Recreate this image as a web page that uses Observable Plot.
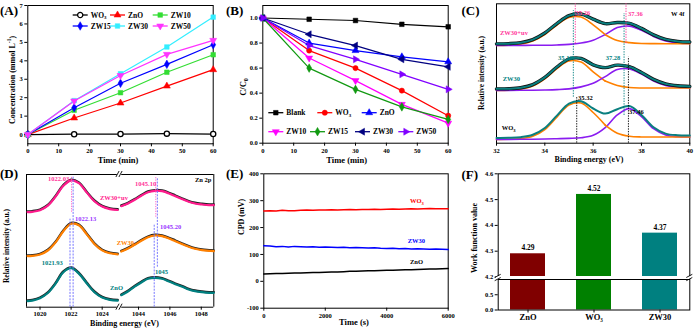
<!DOCTYPE html>
<html>
<head>
<meta charset="utf-8">
<script src="https://cdn.jsdelivr.net/npm/d3@7"></script>
<script src="https://cdn.jsdelivr.net/npm/@observablehq/plot@0.6"></script>
<style>
  html, body { margin: 0; padding: 0; background: #fff; }
  #fig { position: relative; width: 700px; height: 331px; overflow: hidden; background: #fff;
         font-family: "Liberation Serif", "Times New Roman", serif; font-weight: bold; }
  .p { position: absolute; }
  .t { position: absolute; white-space: nowrap; line-height: 1; }
  .t sub, .t sup { font-size: 70%; line-height: 0; }
</style>
</head>
<body>
<div id="fig"></div>
<script>
// ================= DATA =================
// (A) concentration vs time
const timeA = [0, 15, 30, 45, 60];
const seriesA = ["WO3", "ZnO", "ZW10", "ZW15", "ZW30", "ZW50"];
const concWO3  = [0, 0.02, 0.03, 0.05, 0.03];
const concZnO  = [0, 0.90, 1.71, 2.63, 3.52];
const concZW10 = [0, 1.32, 2.27, 3.38, 4.33];
const concZW15 = [0, 1.46, 2.78, 3.81, 4.87];
const concZW30 = [0, 1.84, 3.30, 4.75, 6.37];
const concZW50 = [0, 1.82, 3.20, 4.35, 5.11];
const ticksA = [0, 1, 2, 3, 4, 5, 6, 7];
const ticksTime = [0, 10, 20, 30, 40, 50, 60];

// (B) C/C0 vs time
const timeB = [0, 15, 30, 45, 60];
const seriesB = ["Blank", "WO3", "ZnO", "ZW10", "ZW15", "ZW30", "ZW50"];
const ratioBlank = [1, 0.99, 0.98, 0.95, 0.93];
const ratioWO3   = [1, 0.74, 0.60, 0.42, 0.22];
const ratioZnO   = [1, 0.80, 0.74, 0.69, 0.65];
const ratioZW10  = [1, 0.68, 0.50, 0.31, 0.16];
const ratioZW15  = [1, 0.60, 0.43, 0.29, 0.19];
const ratioZW30  = [1, 0.87, 0.78, 0.67, 0.61];
const ratioZW50  = [1, 0.78, 0.67, 0.55, 0.43];
const ticksB = [0, 0.2, 0.4, 0.6, 0.8, 1.0];

// (C) W 4f XPS (arbitrary intensity units, stacked spectra)
const spectraC = ["WO3", "ZW30", "ZW30+uv"];
const energyC = [32, 32.5, 33, 33.5, 34, 34.5, 35, 35.5, 36, 36.5, 37, 37.5, 38, 38.5, 39, 39.5, 40];
const bgC_WO3  = [5.3, 5.3, 5.4, 5.5, 5.7, 6.0, 6.3, 6.6, 6.9, 7.1, 7.3, 7.5, 7.6, 7.7, 7.7, 7.7, 7.7];
const w47C_WO3 = [0, 0.08, 0.6, 2.9, 9.5, 21.6, 33.3, 35.1, 25.3, 12.5, 4.2, 1.0, 0.15, 0, 0, 0, 0];
const w45C_WO3 = [0, 0, 0, 0, 0, 0, 0.03, 0.35, 2.5, 10.0, 22.5, 28.6, 20.5, 8.3, 1.9, 0.24, 0];
const bgC_ZW30  = [54.3, 54.3, 54.4, 54.5, 54.7, 55.0, 55.3, 55.6, 55.9, 56.1, 56.3, 56.5, 56.6, 56.7, 56.7, 56.7, 56.7];
const w47C_ZW30 = [0.03, 0.2, 1.1, 4.1, 11.1, 21.1, 28.4, 27.0, 17.0, 7.5, 2.9, 0.7, 0.1, 0, 0, 0, 0];
const w45C_ZW30 = [0, 0, 0, 0, 0.03, 0.1, 0.5, 2.2, 5.5, 12.0, 18.9, 19.3, 14.0, 7.1, 2.6, 0.7, 0.1];
const bgC_UV  = [99.3, 99.3, 99.35, 99.4, 99.5, 99.7, 99.9, 100.1, 100.3, 100.5, 100.6, 100.8, 100.9, 101, 101, 101, 101];
const w47C_UV = [0.04, 0.26, 1.2, 4.2, 10.7, 19.9, 27.3, 27.5, 19.5, 9.5, 3.6, 1.3, 0.3, 0.05, 0, 0, 0];
const w45C_UV = [0, 0, 0, 0, 0, 0.06, 0.4, 1.6, 4.2, 9.6, 16.5, 17.8, 13.6, 7.3, 2.8, 0.8, 0.15];
const guideC = [
  {s: "ZW30+uv", e: 35.26, lo: 99.5, hi: 139.4}, {s: "ZW30+uv", e: 37.36, lo: 99.5, hi: 139.4},
  {s: "ZW30", e: 35.18, lo: 46, hi: 132.7}, {s: "ZW30", e: 37.28, lo: 27.7, hi: 129.7},
  {s: "WO3", e: 35.32, lo: 0, hi: 46}, {s: "WO3", e: 37.46, lo: 0, hi: 86}
];
const ticksC = [32, 34, 36, 38, 40];

// (D) Zn 2p XPS (broken energy axis: 2p3/2 and 2p1/2 windows)
const samplesD = ["ZnO", "ZW30", "ZW30+uv"];
const energyD32 = [1019.2, 1019.5, 1020, 1020.5, 1021, 1021.5, 1022, 1022.5, 1023, 1023.5, 1024, 1024.5, 1025];
const zn32_ZnO  = [6.1, 6.6, 9.0, 14.2, 23.5, 35.0, 39.0, 33.6, 24.0, 15.0, 9.6, 7.3, 6.6];
const zn32_ZW30 = [51.1, 51.3, 52.7, 56.7, 64.8, 76.0, 83.5, 81.9, 73.1, 63.2, 56.8, 53.9, 52.9];
const zn32_UV   = [95.1, 95.4, 97.0, 101.5, 110.6, 121.4, 126.8, 124.0, 114.8, 106.0, 100.6, 98.1, 97.2];
const energyD12 = [1042.9, 1043.3, 1043.75, 1044.2, 1044.6, 1045.05, 1045.5, 1045.9, 1046.35, 1046.8, 1047.2, 1047.6, 1048.05, 1048.5, 1048.8];
const zn12_ZnO  = [12, 15.5, 20.5, 25, 28.4, 29.4, 28.4, 26, 23, 20.4, 17.7, 16, 15, 14.4, 14.4];
const zn12_ZW30 = [55.7, 58.4, 62.4, 66.7, 70, 71.7, 71, 69, 66, 63, 60.4, 58.4, 57, 56.4, 56];
const zn12_UV   = [101, 103.4, 107.4, 111.7, 115, 116.4, 116, 114, 111, 108, 105.4, 103.7, 102.7, 102, 102];
const guideD = [
  {s: "ZnO", e: 1021.93, lo: 0, hi: 88}, {s: "ZW30", e: 1022.13, lo: 0, hi: 130}, {s: "ZW30+uv", e: 1022.03, lo: 95, hi: 131},
  {s: "ZnO", e: 1045.0, lo: 0, hi: 82}, {s: "ZW30", e: 1045.2, lo: 40, hi: 129}, {s: "ZW30+uv", e: 1045.1, lo: 90, hi: 130}
];
const domainD32 = [1019.13, 1025.05];
const domainD12 = [1042.85, 1048.8];
const ticksD32 = [1020, 1022, 1024];
const ticksD12 = [1044, 1046, 1048];
const domainDy = [0, 132.7];

// (E) CPD vs time
const timeE = [0,200,400,600,800,1000,1200,1400,1600,1800,2000,2200,2400,2600,2800,3000,3200,3400,3600,3800,4000,4200,4400,4600,4800,5000,5200,5400,5600,5800,6000];
const seriesE = ["WO3", "ZW30", "ZnO"];
const cpdWO3  = [262,263,262,264,263,263,264,265,264,265,265,266,265,266,267,266,267,267,268,267,268,269,268,269,270,269,270,271,270,270,270];
const cpdZW30 = [132,131,129,130,128,130,129,128,129,127,128,127,126,127,125,126,125,124,125,123,122,123,121,122,120,121,120,119,120,119,118];
const cpdZnO  = [27,28,29,29,30,31,31,32,33,33,34,35,35,36,37,37,38,39,39,40,41,41,42,43,43,44,45,46,46,47,48];
const ticksE_y = [-100, 0, 100, 200, 300, 400];
const ticksE_x = [0, 2000, 4000, 6000];

// (F) work function (broken value axis)
const materialsF = ["ZnO", "WO₃", "ZW30"];
const workFunction = [4.29, 4.52, 4.37];
const domainFlow = [0, 1.0];
const domainFhigh = [4.2, 4.6];
const ticksFlow = [0, 0.5];
const ticksFhigh = [4.2, 4.3, 4.4, 4.5, 4.6];

// ================= STYLES =================
const serif = '"Liberation Serif", "Times New Roman", serif';
const colorsA = ["#000000", "#ff0000", "#33dd33", "#0000ff", "#33eeff", "#ff33ff"];
const symA = ["circle", "triangle", "square", "diamond", "square", "triangle"];
const rotA = [0, 0, 0, 0, 0, 180];
const colorsB = ["#000000", "#ff0000", "#0000ff", "#ff00ff", "#119911", "#000080", "#8000ff"];
const symB = ["square", "circle", "triangle", "triangle", "diamond", "triangle", "triangle"];
const rotB = [0, 0, 0, 180, 0, -90, 90];
const colorsC = ["#000000", "#008080", "#ff3399"];
const colorsD = ["#008080", "#ff8000", "#ff1a8c"];
const colorsE = ["#ff0000", "#0000ff", "#000000"];
const colorsF = ["#800000", "#008000", "#008080"];

function st(size) {
  return {fontFamily: serif, fontSize: size + "px", fontWeight: "bold", color: "#000", background: "transparent", overflow: "visible"};
}
const fig = d3.select("#fig");
function mount(svg, left, top) {
  fig.append("div").attr("class", "p").style("left", left + "px").style("top", top + "px").node().appendChild(svg);
}
function dots(rows, names, colors, syms, rots, xk, yk, hollowFirst) {
  return names.map((n, i) => Plot.dot(rows.filter(d => d.s === n), {
    x: xk, y: yk, symbol: syms[i], rotate: rots[i], r: 2.6,
    fill: hollowFirst && i === 0 ? "#ffffff" : colors[i], stroke: colors[i],
    strokeWidth: hollowFirst && i === 0 ? 1.3 : 0.5
  }));
}

// ================= (A) =================
const concA = [concWO3, concZnO, concZW10, concZW15, concZW30, concZW50];
const rowsA = seriesA.flatMap((s, i) => timeA.map((t, j) => ({s, t, v: concA[i][j]})));
mount(Plot.plot({
  width: 230, height: 165, marginLeft: 27.3, marginRight: 17.3, marginTop: 5, marginBottom: 21.7,
  style: st(6.5),
  x: {domain: [0, 60], ticks: ticksTime, tickSize: 3, tickPadding: 2, label: null},
  y: {domain: [-0.5, 7], ticks: ticksA, tickSize: 3, tickPadding: 2, label: null},
  color: {domain: seriesA, range: colorsA},
  marks: [
    Plot.frame({stroke: "#000", strokeWidth: 1}),
    Plot.line(rowsA, {x: "t", y: "v", z: "s", stroke: "s", strokeWidth: 1.2}),
    ...dots(rowsA, seriesA, colorsA, symA, rotA, "t", "v", true)
  ]
}), 0, 0);

// ================= (B) =================
const ratioB = [ratioBlank, ratioWO3, ratioZnO, ratioZW10, ratioZW15, ratioZW30, ratioZW50];
const rowsB = seriesB.flatMap((s, i) => timeB.map((t, j) => ({s, t, v: ratioB[i][j]})));
mount(Plot.plot({
  width: 230, height: 165, marginLeft: 32.3, marginRight: 12.3, marginTop: 5, marginBottom: 22.3,
  style: st(6.5),
  x: {domain: [0, 60], ticks: ticksTime, tickSize: 3, tickPadding: 2, label: null},
  y: {domain: [0, 1.1], ticks: ticksB, tickFormat: d3.format(".1f"), tickSize: 3, tickPadding: 2, label: null},
  color: {domain: seriesB, range: colorsB},
  marks: [
    Plot.frame({stroke: "#000", strokeWidth: 1}),
    Plot.line(rowsB, {x: "t", y: "v", z: "s", stroke: "s", strokeWidth: 1.2}),
    ...dots(rowsB, seriesB, colorsB, symB, rotB, "t", "v", false)
  ]
}), 230, 0);

// ================= (C) =================
const bgC = [bgC_WO3, bgC_ZW30, bgC_UV];
const w47C = [w47C_WO3, w47C_ZW30, w47C_UV];
const w45C = [w45C_WO3, w45C_ZW30, w45C_UV];
const rowsC = spectraC.flatMap((s, i) => energyC.map((e, j) => ({
  s, e,
  o: bgC[i][j] + w47C[i][j],
  p: bgC[i][j] + w45C[i][j],
  env: bgC[i][j] + w47C[i][j] + w45C[i][j]
})));
const splitC = 36.5;
mount(Plot.plot({
  width: 240, height: 165, marginLeft: 36, marginRight: 10.7, marginTop: 3.3, marginBottom: 22.3,
  style: st(6.5),
  x: {domain: [32, 40], ticks: ticksC, tickSize: 3, tickPadding: 2, label: null},
  y: {domain: [0, 139.4], axis: null},
  color: {domain: spectraC, range: colorsC},
  marks: [
    Plot.frame({stroke: "#000", strokeWidth: 1}),
    Plot.line(rowsC.filter(d => d.e <= splitC), {x: "e", y: "o", z: "s", stroke: "#ff8000", strokeWidth: 1.6, curve: "catmull-rom", dy: 1.5}),
    Plot.line(rowsC, {x: "e", y: "p", z: "s", stroke: "#8a1cf0", strokeWidth: 1.6, curve: "catmull-rom", dy: 1.5}),
    Plot.line(rowsC.filter(d => d.e >= splitC), {x: "e", y: "o", z: "s", stroke: "#ff8000", strokeWidth: 1.6, curve: "catmull-rom", dy: 1.5}),
    Plot.line(rowsC.filter(d => d.s !== "WO3"), {x: "e", y: "env", z: "s", stroke: "#111", strokeWidth: 3.4, curve: "catmull-rom"}),
    Plot.line(rowsC, {x: "e", y: "env", z: "s", stroke: "#0a7f7f", strokeWidth: 2, curve: "catmull-rom"}),
    Plot.ruleX(guideC, {x: "e", y1: "lo", y2: "hi", stroke: "s", strokeWidth: 0.9, strokeDasharray: "1.4,1.2"})
  ]
}), 460, 0);

// ================= (D) two windows of one broken axis =================
const zn32 = [zn32_ZnO, zn32_ZW30, zn32_UV];
const zn12 = [zn12_ZnO, zn12_ZW30, zn12_UV];
const rowsD32 = samplesD.flatMap((s, i) => energyD32.map((e, j) => ({s, e, v: zn32[i][j]})));
const rowsD12 = samplesD.flatMap((s, i) => energyD12.map((e, j) => ({s, e, v: zn12[i][j]})));
function panelD(rows, domain, ticks, width, mL, mR, outerEdge) {
  return Plot.plot({
    width, height: 166, marginLeft: mL, marginRight: mR, marginTop: 9, marginBottom: 24.3,
    style: st(6.5),
    x: {domain, ticks, tickFormat: d => String(d), tickSize: 3, tickPadding: 1, label: null},
    y: {domain: domainDy, axis: null},
    color: {domain: samplesD, range: colorsD},
    marks: [
      Plot.ruleY(domainDy, {stroke: "#000", strokeWidth: 1}),
      Plot.ruleX([outerEdge], {stroke: "#000", strokeWidth: 1}),
      Plot.line(rows, {x: "e", y: "v", z: "s", stroke: "#222", strokeWidth: 2.4, curve: "catmull-rom", dy: -0.7}),
      Plot.line(rows, {x: "e", y: "v", z: "s", stroke: "s", strokeWidth: 2.2, curve: "catmull-rom"}),
      Plot.ruleX(guideD.filter(d => d.s !== "ZW30+uv" && d.e >= domain[0] && d.e <= domain[1]), {x: "e", y1: "lo", y2: "hi", stroke: "#7676ff", strokeWidth: 1, strokeDasharray: "2,1.2"}),
      Plot.ruleX(guideD.filter(d => d.s === "ZW30+uv" && d.e >= domain[0] && d.e <= domain[1]), {x: "e", y1: "lo", y2: "hi", stroke: "#ff66cc", strokeWidth: 1, strokeDasharray: "1.2,1.2"})
    ]
  });
}
mount(panelD(rowsD32, domainD32, ticksD32, 119, 26, 1, domainD32[0]), 0, 165);
mount(panelD(rowsD12, domainD12, ticksD12, 111, 1, 16.7, domainD12[1]), 119, 165);

// ================= (E) =================
const cpdE = [cpdWO3, cpdZW30, cpdZnO];
const rowsE = seriesE.flatMap((s, i) => timeE.map((t, j) => ({s, t, v: cpdE[i][j]})));
mount(Plot.plot({
  width: 230, height: 166, marginLeft: 33.3, marginRight: 12.3, marginTop: 8.3, marginBottom: 23.3,
  style: st(6.5),
  x: {domain: [0, 6000], ticks: ticksE_x, tickFormat: d => String(d), tickSize: 3, tickPadding: 2, label: null},
  y: {domain: [-100, 400], ticks: ticksE_y, tickFormat: d => String(d), tickSize: 3, tickPadding: 2, label: null},
  color: {domain: seriesE, range: colorsE},
  marks: [
    Plot.frame({stroke: "#000", strokeWidth: 1}),
    Plot.line(rowsE, {x: "t", y: "v", z: "s", stroke: "s", strokeWidth: 1.5})
  ]
}), 230, 165);

// ================= (F) upper and lower parts of one broken axis =================
const rowsF = materialsF.map((m, i) => ({m, v: workFunction[i]}));
const bandF = {domain: materialsF, paddingInner: 0.47, paddingOuter: 0.18, label: null};
mount(Plot.plot({
  width: 240, height: 113, marginLeft: 37.7, marginRight: 10.7, marginTop: 8.3, marginBottom: 1.5,
  style: st(6.5),
  x: {...bandF, axis: null},
  y: {domain: domainFhigh, ticks: ticksFhigh, tickFormat: d3.format(".1f"), tickSize: 3, tickPadding: 2, label: null},
  color: {domain: materialsF, range: colorsF},
  marks: [
    Plot.barY(rowsF, {x: "m", y1: domainFhigh[0], y2: "v", fill: "m"}),
    Plot.frame({stroke: "#000", strokeWidth: 1}),
    Plot.text(rowsF, {x: "m", y: "v", text: d => d.v.toFixed(2), dy: -6, fontSize: 7.5})
  ]
}), 460, 165);
mount(Plot.plot({
  width: 240, height: 54.5, marginLeft: 37.7, marginRight: 10.7, marginTop: 2, marginBottom: 22,
  style: st(6.5),
  x: {...bandF, tickSize: 3, tickFormat: () => ""},
  y: {domain: domainFlow, ticks: ticksFlow, tickFormat: d3.format(".1f"), tickSize: 3, tickPadding: 2, label: null},
  color: {domain: materialsF, range: colorsF},
  marks: [
    Plot.barY(rowsF, {x: "m", y1: domainFlow[0], y2: d => Math.min(d.v, domainFlow[1]), fill: "m"}),
    Plot.frame({stroke: "#000", strokeWidth: 1}),
    Plot.text(rowsF, {x: "m", text: "m", frameAnchor: "bottom", dy: 10, fontSize: 8.5})
  ]
}), 460, 276.5);

// ================= OVERLAY (legends, axis breaks) =================
const ov = fig.append("svg").attr("width", 700).attr("height", 331)
  .style("position", "absolute").style("left", "0px").style("top", "0px").style("overflow", "visible");
const symMap = {circle: d3.symbolCircle, triangle: d3.symbolTriangle, square: d3.symbolSquare, diamond: d3.symbolDiamond};
function nameText(t, name) {
  if (name === "WO3") { t.append("tspan").text("WO"); t.append("tspan").attr("font-size", 5).attr("dy", 1.8).text("3"); }
  else t.text(name);
}
function legendItem(x, y, name, color, sym, rot, hollow) {
  const len = 15;
  ov.append("line").attr("x1", x).attr("x2", x + len).attr("y1", y).attr("y2", y).attr("stroke", color).attr("stroke-width", 1.3);
  ov.append("path").attr("d", d3.symbol(symMap[sym], Math.PI * 2.6 * 2.6)())
    .attr("transform", `translate(${x + len / 2},${y}) rotate(${rot})`)
    .attr("fill", hollow ? "#fff" : color).attr("stroke", color).attr("stroke-width", hollow ? 1.3 : 0.5);
  const t = ov.append("text").attr("x", x + len + 3).attr("y", y).attr("dy", "0.35em")
    .attr("font-family", serif).attr("font-weight", "bold").attr("font-size", 7.5).attr("fill", "#000");
  nameText(t, name);
}
const legAx = [72.7, 110, 152.7], legAy = [15, 26];
seriesA.forEach((s, i) => legendItem(legAx[i % 3], legAy[Math.floor(i / 3)], s, colorsA[i], symA[i], rotA[i], i === 0));
const legBpos = [[268.3, 112.7], [317.3, 112.7], [361.7, 112.7], [268.3, 131.7], [310, 131.7], [355, 131.7], [398.3, 131.7]];
seriesB.forEach((s, i) => legendItem(legBpos[i][0], legBpos[i][1], s, colorsB[i], symB[i], rotB[i], false));

function breakH(x, y) {
  ov.append("rect").attr("x", x - 2.2).attr("y", y - 2).attr("width", 4.4).attr("height", 4).attr("fill", "#fff");
  for (const dx of [-1.5, 1.5]) ov.append("line").attr("x1", x + dx - 1.6).attr("y1", y + 3).attr("x2", x + dx + 1.6).attr("y2", y - 3).attr("stroke", "#000").attr("stroke-width", 0.9);
}
function breakV(x, y) {
  for (const dy of [-1.6, 1.6]) ov.append("line").attr("x1", x - 3).attr("y1", y + dy + 1.6).attr("x2", x + 3).attr("y2", y + dy - 1.6).attr("stroke", "#000").attr("stroke-width", 0.9);
}
breakH(119, 174); breakH(119, 306.7);
ov.append("rect").attr("x", 496).attr("y", 276).attr("width", 195).attr("height", 3).attr("fill", "#fff");
breakV(497.7, 277.5); breakV(689.3, 277.5);

// ================= TEXT =================
function label(html, x, y, {size = 6.5, color = "#000", rotate = 0, anchor = "start"} = {}) {
  const tx = anchor === "middle" ? "-50%" : anchor === "end" ? "-100%" : "0%";
  fig.append("div").attr("class", "t").html(html)
    .style("font-size", size + "px").style("color", color)
    .style("left", x + "px").style("top", y + "px")
    .style("transform", `translate(${tx},-50%)` + (rotate ? ` rotate(${rotate}deg)` : ""));
}
label("(A)", 0, 9.5, {size: 13}); label("(B)", 226, 10, {size: 13}); label("(C)", 461.5, 10, {size: 13});
label("(D)", 0, 172.5, {size: 13}); label("(E)", 226, 173, {size: 13}); label("(F)", 461.5, 173.5, {size: 13});
label("Concentration (mmol L<sup>-1</sup>)", 13.3, 80, {size: 8, rotate: -90, anchor: "middle"});
label("Time (min)", 118, 159.5, {size: 8.5, anchor: "middle"});
label("C/C<sub>0</sub>", 243.3, 86.7, {size: 8.5, rotate: -90, anchor: "middle"});
label("Time (min)", 346.7, 159.5, {size: 8.5, anchor: "middle"});
label("Relative intensity (a.u.)", 481.7, 73.3, {size: 7.5, rotate: -90, anchor: "middle"});
label("Binding energy (eV)", 589, 159.5, {size: 8, anchor: "middle"});
label("Relative intensity (a.u.)", 7.3, 246, {size: 7.5, rotate: -90, anchor: "middle"});
label("Binding energy (eV)", 124.5, 323.5, {size: 8, anchor: "middle"});
label("CPD (mV)", 241.7, 216.7, {size: 8, rotate: -90, anchor: "middle"});
label("Time (s)", 354, 321.7, {size: 8.5, anchor: "middle"});
label("Work function value", 475, 238, {size: 8, rotate: -90, anchor: "middle"});
label("35.26", 575.5, 12.7, {color: "#ff3399"});
label("37.36", 628, 14, {color: "#ff3399"});
label("35.18", 558, 58.3, {color: "#008080"});
label("37.28", 605.7, 58, {color: "#008080"});
label("35.32", 578, 98.3);
label("37.46", 629, 112);
label("W 4f", 671, 14);
label("ZW30+uv", 500, 33.3, {color: "#ff3399"});
label("ZW30", 502.7, 79, {color: "#008080"});
label("WO<sub>3</sub>", 501.7, 127.7);
label("1022.03", 48, 179, {color: "#ff3399"});
label("1022.13", 75, 219, {color: "#9933ff"});
label("1021.93", 41.7, 263.3, {color: "#008080"});
label("1045.10", 135, 184.3, {color: "#ff3399"});
label("1045.20", 160, 226.7, {color: "#9933ff"});
label("1045", 155, 272.3, {color: "#008080"});
label("Zn 2p", 195, 180);
label("ZW30+uv", 100, 197.7, {color: "#ff1a8c"});
label("ZW30", 116.7, 243.3, {color: "#ff8000"});
label("ZnO", 110, 287.7, {color: "#008080"});
label("WO<sub>3</sub>", 410, 201, {color: "#ff0000"});
label("ZW30", 407.7, 241, {color: "#0000ff"});
label("ZnO", 410, 262.3);
</script>
</body>
</html>
